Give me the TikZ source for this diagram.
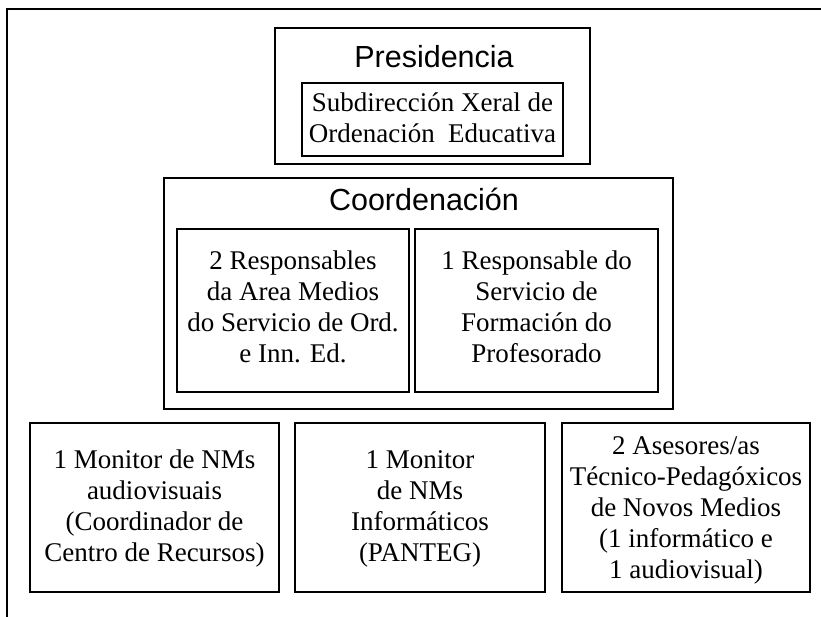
\documentclass[tikz,border=0pt]{standalone}
\usepackage{fontspec}
\setmainfont{Liberation Serif}
\newfontfamily\sansf{Liberation Sans}
\begin{document}
\begin{tikzpicture}[x=1pt,y=-1pt,
  frame/.style={line width=2.6pt,line cap=rect},
  boxx/.style={draw,line width=2.6pt},
  serif/.style={font=\fontsize{27}{31}\selectfont,align=center,inner sep=0pt},
  sanstxt/.style={font=\sansf\fontsize{30.5}{34}\selectfont,inner sep=0pt}]
\useasboundingbox (0,0) rectangle (821,617);
% outer frame
\coordinate (fTL) at (7,9);
\coordinate (fTR) at (821,9);
\coordinate (fBL) at (7,617);
\draw[frame] (fTR) -- (fTL) -- (fBL);
% Presidencia
\draw[boxx] (275,28) rectangle (590,164);
\node[sanstxt,anchor=base] (pres) at (434,68) {Presidencia};
\draw[boxx] (302,83) rectangle (563,156);
\node[serif] (sub) at (432.5,118) {Subdirección Xeral de\\Ordenación\ \ Educativa};
% Coordenacion
\draw[boxx] (164,178) rectangle (673,409);
\node[sanstxt,anchor=base] (coord) at (424,211) {Coordenación};
\draw[boxx] (177,229) rectangle (409,392);
\node[serif] (c1) at (293,307) {2 Responsables\\da Area Medios\\do Servicio de Ord.\\e Inn. Ed.};
\draw[boxx] (415,229) rectangle (658,392);
\node[serif] (c2) at (536.5,307) {1 Responsable do\\Servicio de\\Formación do\\Profesorado};
% bottom row
\draw[boxx] (30,423) rectangle (279,592);
\node[serif] (b1) at (154.5,509) {1 Monitor de NMs\\audiovisuais\\(Coordinador de\\Centro de Recursos)};
\draw[boxx] (295,423) rectangle (545,592);
\node[serif] (b2) at (420,509) {1 Monitor\\de NMs\\Informáticos\\(PANTEG)};
\draw[boxx] (562,423) rectangle (810,592);
\node[serif] (b3) at (686,510) {2 Asesores/as\\Técnico-Pedagóxicos\\de Novos Medios\\(1 informático e\\1 audiovisual)};
\end{tikzpicture}
\end{document}
